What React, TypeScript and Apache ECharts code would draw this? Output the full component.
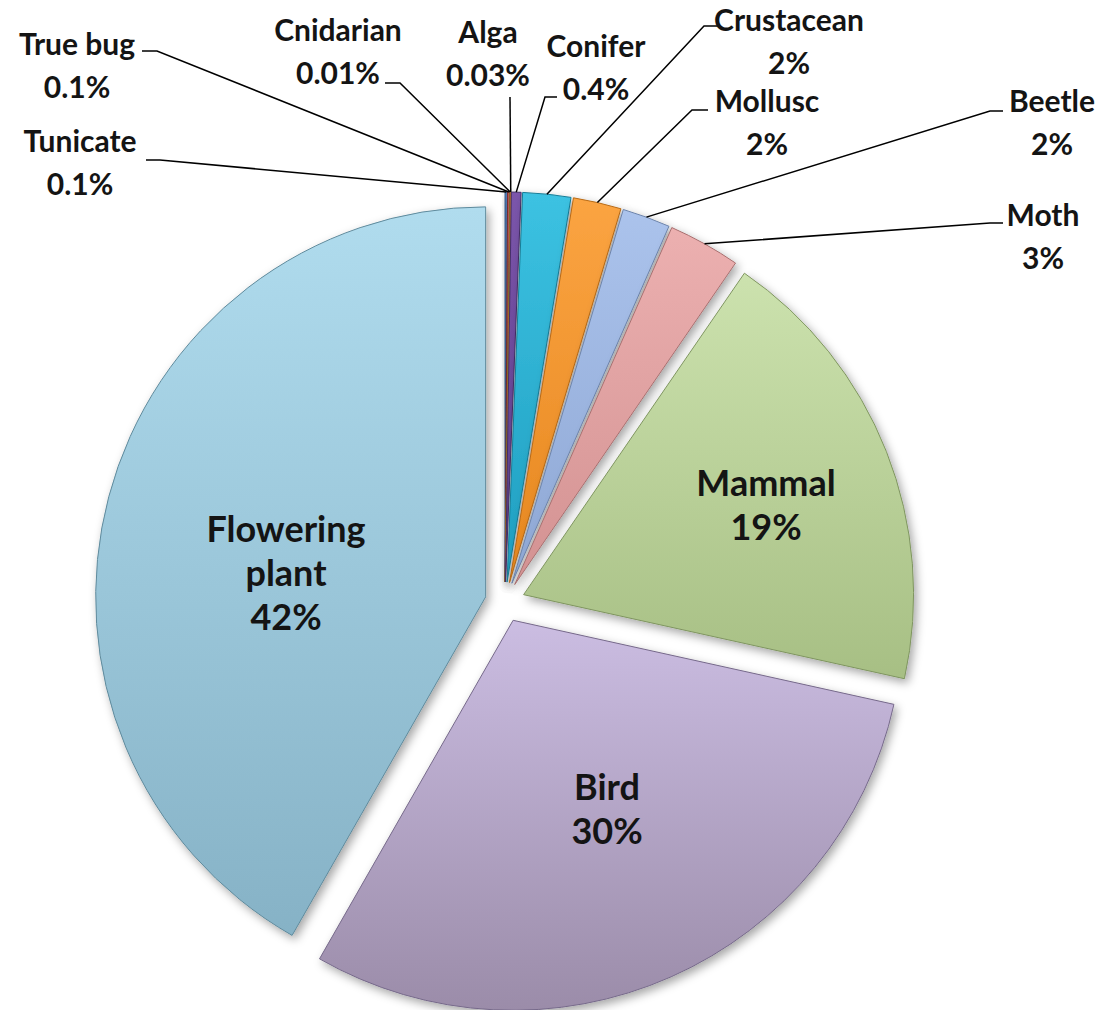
import React, { useEffect, useRef } from 'react';
import * as echarts from 'echarts';

// ---- data (clockwise from 12 o'clock) ----
const CATEGORIES = [
  'Tunicate', 'True bug', 'Cnidarian', 'Alga', 'Conifer', 'Crustacean',
  'Mollusc', 'Beetle', 'Moth', 'Mammal', 'Bird', 'Flowering plant',
];
const VALUES = [0.1, 0.1, 0.01, 0.03, 0.4, 2, 2, 2, 3, 19, 30, 42];
const INSIDE_LABELS = ['Mammal', 'Bird', 'Flowering plant'];

// ---- styles (one entry per category, same order) ----
const COLOR_TOP = [
  '#5a86c4', '#c8605c', '#a2c263', '#fbb36a', '#7b55ab', '#3cc2e2',
  '#fba442', '#abc3ec', '#ecb0b0', '#cce2ae', '#cbbde2', '#b0dcee',
];
const COLOR_BOTTOM = [
  '#3f6aa6', '#a8403d', '#84a244', '#e0903f', '#5c3e8a', '#1f9ec0',
  '#e6871f', '#8ea7d4', '#d39292', '#a7bf84', '#9b8ca9', '#86b2c6',
];
const BORDER = [
  '#2f5283', '#84302d', '#667e34', '#b06c25', '#46306a', '#187d97',
  '#b86a15', '#6d84ab', '#a87070', '#7f9560', '#76698a', '#5f8a9c',
];

const CENTER = [505, 602];
const RADIUS = 390;
const EXPLODE = 20;
const FONT = 'Lato, "Open Sans", sans-serif';

// label block centres and leader-line anchor/elbow (layout only)
const LABEL_LAYOUT: Record<string, { x: number; y: number; anchor?: number[]; elbow?: number[] }> = {
  'Tunicate': { x: 80, y: 161, anchor: [146, 160], elbow: [160, 160] },
  'True bug': { x: 77, y: 64, anchor: [142, 51], elbow: [157, 51] },
  'Cnidarian': { x: 338, y: 50, anchor: [385, 83], elbow: [400, 83] },
  'Alga': { x: 488, y: 52, anchor: [510, 97], elbow: [510, 97] },
  'Conifer': { x: 596, y: 66, anchor: [557, 97], elbow: [545, 97] },
  'Crustacean': { x: 789, y: 40, anchor: [718, 26], elbow: [704, 26] },
  'Mollusc': { x: 767, y: 121, anchor: [708, 110], elbow: [692, 110] },
  'Beetle': { x: 1052, y: 121, anchor: [1003, 111], elbow: [990, 111] },
  'Moth': { x: 1043, y: 235, anchor: [1003, 223], elbow: [990, 223] },
  'Mammal': { x: 766, y: 504 },
  'Bird': { x: 607, y: 808 },
  'Flowering plant': { x: 286, y: 572 },
};

export default function App() {
  const ref = useRef<HTMLDivElement>(null);

  useEffect(() => {
    if (!ref.current) return;
    const chart = echarts.init(ref.current, null, { renderer: 'svg' });

    const sliceData = CATEGORIES.map((name, k) => {
      const style = {
        color: new echarts.graphic.LinearGradient(0, 0, 0, 1, [
          { offset: 0, color: COLOR_TOP[k] },
          { offset: 1, color: COLOR_BOTTOM[k] },
        ]),
        borderColor: BORDER[k],
        borderWidth: 1,
        shadowBlur: 10,
        shadowColor: 'rgba(0,0,0,0.35)',
        shadowOffsetX: 3,
        shadowOffsetY: 4,
      };
      return {
        name,
        value: VALUES[k],
        selected: true,
        itemStyle: style,
        select: { itemStyle: style },
      };
    });

    const labelData = CATEGORIES.map((name, i) => {
      const inside = INSIDE_LABELS.includes(name);
      return {
        name,
        value: VALUES[i],
        labelLine: { show: !inside },
        label: inside ? { fontSize: 36, lineHeight: 44 } : {},
      };
    });

    chart.setOption({
      animation: false,
      backgroundColor: '#ffffff',
      series: [
        {
          type: 'pie',
          z: 2,
          center: CENTER,
          radius: RADIUS,
          startAngle: 90,
          clockwise: true,
          selectedMode: 'multiple',
          selectedOffset: EXPLODE,
          silent: true,
          emphasis: { disabled: true },
          label: { show: false },
          labelLine: { show: false },
          data: sliceData,
        },
        {
          type: 'pie',
          z: 5,
          center: CENTER,
          radius: RADIUS,
          startAngle: 90,
          clockwise: true,
          silent: true,
          avoidLabelOverlap: false,
          emphasis: { disabled: true },
          itemStyle: { color: 'rgba(0,0,0,0)', borderWidth: 0 },
          label: {
            show: true,
            position: 'outside',
            fontFamily: FONT,
            fontWeight: 'bold',
            fontSize: 30,
            lineHeight: 43,
            color: '#141414',
            align: 'center',
            formatter: (p: any) => {
              const n = INSIDE_LABELS.includes(p.name) ? p.name.replace(' ', '\n') : p.name;
              return n + '\n' + p.value + '%';
            },
          },
          labelLine: {
            show: true,
            lineStyle: { color: '#000', width: 1.5 },
          },
          labelLayout: (p: any) => {
            const name = CATEGORIES[p.dataIndex];
            const L = LABEL_LAYOUT[name];
            const out: any = { x: L.x, y: L.y, align: 'center', verticalAlign: 'middle' };
            if (L.anchor && p.labelLinePoints && p.labelLinePoints[0]) {
              const [px, py] = p.labelLinePoints[0];
              const vx = px - CENTER[0];
              const vy = py - CENTER[1];
              const len = Math.hypot(vx, vy) || 1;
              out.labelLinePoints = [
                [px + (vx / len) * EXPLODE, py + (vy / len) * EXPLODE],
                L.elbow,
                L.anchor,
              ];
            }
            return out;
          },
          data: labelData,
        },
      ],
    });

    return () => chart.dispose();
  }, []);

  return (
    <div
      ref={ref}
      style={{ position: 'absolute', left: 0, top: 0, width: 1103, height: 1010, background: '#fff' }}
    />
  );
}
